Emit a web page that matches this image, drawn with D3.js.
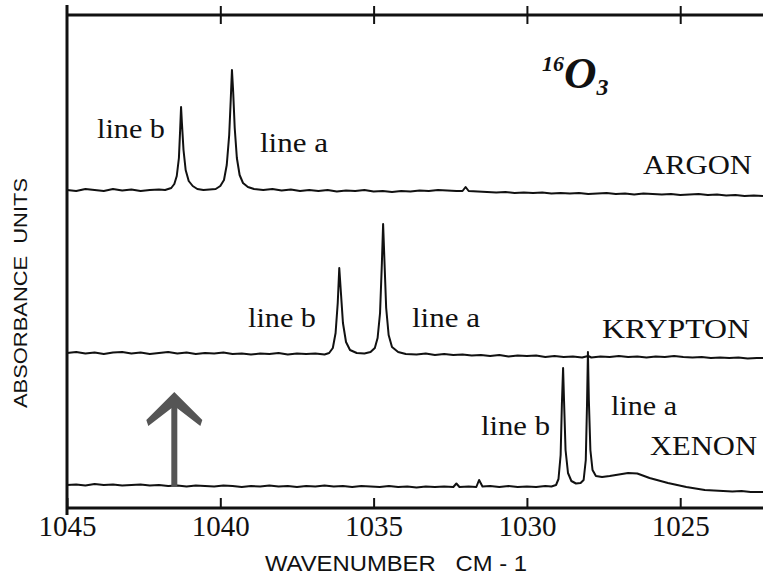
<!DOCTYPE html>
<html lang="en">
<head>
<meta charset="UTF-8">
<title>O3 spectra</title>
<script src="https://d3js.org/d3.v7.min.js"></script>
<style>
  body { margin: 0; background: #fff; }
</style>
</head>
<body>
<script>
// wavenumber (cm-1), relative absorbance (arbitrary units) for each matrix
var argon = [
  [1045.0, 0], [1044.7, -1], [1044.4, 1], [1044.1, 0], [1043.8, -1], [1043.5, 1], [1043.2, -0.5],
  [1042.9, 0.5], [1042.6, -1], [1042.3, 0], [1042.0, 0.5], [1041.8, 0], [1041.6, 2], [1041.5, 6],
  [1041.42, 14], [1041.35, 32], [1041.31, 60], [1041.28, 83], [1041.25, 66], [1041.2, 40],
  [1041.13, 20], [1041.03, 9], [1040.9, 4], [1040.75, 1], [1040.55, 0], [1040.35, 0.5],
  [1040.15, 1], [1040.0, 4], [1039.88, 10], [1039.79, 25], [1039.71, 55], [1039.66, 90],
  [1039.62, 120], [1039.58, 98], [1039.53, 62], [1039.46, 32], [1039.37, 15], [1039.26, 7],
  [1039.1, 3], [1038.9, 1], [1038.6, 0], [1038.3, 1], [1038.0, -0.5], [1037.7, 0.5], [1037.4, -1],
  [1037.1, 0], [1036.8, -1], [1036.5, 0], [1036.2, -1.5], [1035.9, -0.5], [1035.6, -1], [1035.3, 0],
  [1035.0, -1.5], [1034.7, -1], [1034.4, -2], [1034.1, -1], [1033.8, -1.5], [1033.5, -0.5],
  [1033.2, -1], [1032.9, 0], [1032.6, -0.5], [1032.3, -1], [1032.1, -1], [1032.0, 3], [1031.9, -1],
  [1031.6, -1.5], [1031.3, -2], [1031.0, -2.5], [1030.7, -2], [1030.4, -3], [1030.1, -2.5],
  [1029.8, -3], [1029.5, -2.5], [1029.2, -3.5], [1028.9, -3], [1028.6, -3.5], [1028.3, -3],
  [1028.0, -4], [1027.7, -3.5], [1027.4, -3], [1027.1, -4], [1026.8, -3.5], [1026.5, -4.5],
  [1026.2, -3.5], [1025.9, -4], [1025.6, -4.5], [1025.3, -4], [1025.0, -5], [1024.7, -4.5],
  [1024.4, -4], [1024.1, -5], [1023.8, -4.5], [1023.5, -5.5], [1023.2, -5], [1022.9, -6],
  [1022.6, -5.5], [1022.3, -6]
];

var krypton = [
  [1045.0, 0], [1044.7, 1], [1044.4, -0.5], [1044.1, 0.5], [1043.8, -1], [1043.5, 0.5], [1043.2, 1],
  [1042.9, -0.5], [1042.6, 0.5], [1042.3, -1], [1042.0, 0], [1041.7, 1], [1041.4, -0.5], [1041.1, 0.5],
  [1040.8, -1], [1040.5, 0], [1040.2, -0.5], [1039.9, 0.5], [1039.6, -1], [1039.3, -0.5], [1039.0, -1.5],
  [1038.7, -0.5], [1038.4, -1], [1038.1, 0], [1037.8, -1.5], [1037.5, -0.5], [1037.2, -1], [1036.9, -0.5],
  [1036.6, -1.5], [1036.45, 0], [1036.33, 5], [1036.24, 20], [1036.17, 50], [1036.12, 85],
  [1036.07, 62], [1036.0, 30], [1035.9, 11], [1035.77, 3], [1035.55, 0], [1035.3, -0.5], [1035.1, 1],
  [1034.96, 5], [1034.87, 15], [1034.79, 40], [1034.73, 90], [1034.69, 129], [1034.65, 95],
  [1034.59, 45], [1034.51, 18], [1034.4, 6], [1034.2, 1], [1033.95, -1], [1033.6, -1.5], [1033.3, -0.5],
  [1033.0, -2], [1032.7, -1], [1032.4, -2], [1032.1, -1.5], [1031.8, -2.5], [1031.5, -2], [1031.2, -3],
  [1030.9, -2], [1030.6, -3.5], [1030.3, -2.5], [1030.0, -3], [1029.7, -2.5], [1029.4, -4], [1029.1, -3],
  [1028.8, -4], [1028.5, -3.5], [1028.2, -4.5], [1028.0, -3], [1027.9, -4.5], [1027.6, -3.5],
  [1027.3, -4], [1027.0, -3], [1026.7, -4], [1026.4, -3.5], [1026.1, -4.5], [1025.8, -3.5],
  [1025.5, -4], [1025.2, -3], [1024.9, -4], [1024.6, -4.5], [1024.3, -4], [1024.0, -5], [1023.7, -4.5],
  [1023.4, -5], [1023.1, -4.5], [1022.8, -5.5], [1022.5, -5], [1022.3, -5]
];

var xenon = [
  [1045.0, 0], [1044.7, 0.5], [1044.4, -0.5], [1044.1, 1], [1043.8, 0], [1043.5, 0.5], [1043.2, -0.5],
  [1042.9, 0], [1042.6, 0.5], [1042.3, -0.5], [1042.0, 0], [1041.7, -1], [1041.4, -0.5], [1041.1, -1.5],
  [1040.8, -0.5], [1040.5, -1], [1040.2, -1.5], [1039.9, -0.5], [1039.6, -1], [1039.3, -2], [1039.0, -1],
  [1038.7, -1.5], [1038.4, -0.5], [1038.1, -1.5], [1037.8, -1], [1037.5, -2], [1037.2, -1],
  [1036.9, -1.5], [1036.6, -0.5], [1036.3, -1.5], [1036.0, -1], [1035.7, -2], [1035.4, -1],
  [1035.1, -1.5], [1034.8, -2], [1034.5, -1], [1034.2, -2], [1033.9, -1.5], [1033.6, -2.5],
  [1033.3, -1.5], [1033.0, -2], [1032.7, -1.5], [1032.4, -2], [1032.3, 1.5], [1032.2, -2],
  [1031.9, -1.5], [1031.65, -2], [1031.56, 5], [1031.45, -1.5], [1031.2, -1], [1030.9, -2],
  [1030.6, -1], [1030.3, -2], [1030.0, -1.5], [1029.7, -2], [1029.4, -1], [1029.2, -1.5],
  [1029.05, 0], [1028.97, 6], [1028.9, 30], [1028.86, 80], [1028.82, 117], [1028.79, 85],
  [1028.74, 35], [1028.66, 12], [1028.55, 4], [1028.4, 1.5], [1028.25, 2], [1028.15, 5],
  [1028.08, 25], [1028.04, 80], [1028.01, 133], [1027.98, 85], [1027.93, 35], [1027.86, 15],
  [1027.75, 9], [1027.55, 8], [1027.3, 9], [1027.0, 10.5], [1026.7, 12], [1026.4, 11.5],
  [1026.0, 7], [1025.7, 4.5], [1025.4, 2], [1025.1, 0], [1024.8, -2], [1024.5, -3.5], [1024.2, -5],
  [1023.9, -5.5], [1023.6, -6], [1023.3, -6.5], [1023.0, -6], [1022.7, -7], [1022.3, -7]
];

var xTicks = [1045, 1040, 1035, 1030, 1025];
var matrixNames = ["ARGON", "KRYPTON", "XENON"];

var width = 763, height = 577;
var mLeft = 67, mRight = 763, mTop = 15, mBottom = 508;

var svg = d3.select("body").append("svg")
    .attr("width", width)
    .attr("height", height);

var x = d3.scaleLinear().domain([1045, 1022.3]).range([mLeft, mRight]);
var y = d3.scaleLinear().domain([0, 493]).range([mBottom, mTop]);

// vertical offsets that stack the three spectra
var offsets = [318, 155, 23];
var series = [argon, krypton, xenon];

var line = d3.line()
    .x(function (d) { return x(d[0]); })
    .y(function (d) { return y(d[1]); });

series.forEach(function (s, i) {
    svg.append("path")
        .datum(s.map(function (d) { return [d[0], d[1] + offsets[i]]; }))
        .attr("d", line)
        .attr("fill", "none")
        .attr("stroke", "#111")
        .attr("stroke-width", 2)
        .attr("stroke-linejoin", "round");
});

// bottom axis
var xAxis = d3.axisBottom(x)
    .tickValues(xTicks)
    .tickSize(-10)
    .tickSizeOuter(0)
    .tickPadding(7)
    .tickFormat(d3.format("d"));

var gx = svg.append("g")
    .attr("transform", "translate(0," + mBottom + ")")
    .call(xAxis);
gx.select(".domain").remove();
gx.selectAll(".tick line").attr("stroke", "#111").attr("stroke-width", 2);
gx.selectAll(".tick text")
    .attr("fill", "#111")
    .style("font-family", "'Liberation Serif', 'Times New Roman', serif")
    .style("font-size", "29px");

// top axis with ticks crossing the line
var xAxisTop = d3.axisTop(x)
    .tickValues(xTicks.slice(1))
    .tickSize(9)
    .tickSizeOuter(0)
    .tickFormat("");
var gt = svg.append("g")
    .attr("transform", "translate(0," + mTop + ")")
    .call(xAxisTop);
gt.select(".domain").remove();
gt.selectAll(".tick line").attr("y2", 9).attr("y1", -9).attr("stroke", "#111").attr("stroke-width", 2);

// frame lines
svg.append("line").attr("x1", mLeft).attr("x2", mRight).attr("y1", mTop).attr("y2", mTop)
    .attr("stroke", "#111").attr("stroke-width", 3);
svg.append("line").attr("x1", mLeft).attr("x2", mRight).attr("y1", mBottom).attr("y2", mBottom)
    .attr("stroke", "#111").attr("stroke-width", 3);
svg.append("line").attr("x1", mLeft).attr("x2", mLeft).attr("y1", 5).attr("y2", 515)
    .attr("stroke", "#111").attr("stroke-width", 3);

// axis titles
svg.append("text")
    .attr("x", 396).attr("y", 571)
    .attr("text-anchor", "middle")
    .attr("textLength", 262)
    .attr("lengthAdjust", "spacingAndGlyphs")
    .style("white-space", "pre")
    .style("font-family", "'Liberation Sans', Arial, sans-serif")
    .style("font-size", "22px")
    .attr("fill", "#111")
    .text("WAVENUMBER   CM - 1");

svg.append("text")
    .attr("transform", "translate(27,293) rotate(-90)")
    .attr("text-anchor", "middle")
    .attr("textLength", 230)
    .attr("lengthAdjust", "spacingAndGlyphs")
    .style("white-space", "pre")
    .style("font-family", "'Liberation Sans', Arial, sans-serif")
    .style("font-size", "18px")
    .attr("fill", "#111")
    .text("ABSORBANCE  UNITS");

// annotations
var serif = "'Liberation Serif', 'Times New Roman', serif";
var labels = [
    { t: "line b", x: 97, y: 138, w: 68 },
    { t: "line a", x: 260, y: 152, w: 68 },
    { t: matrixNames[0], x: 643, y: 174, w: 109 },
    { t: "line b", x: 248, y: 327, w: 68 },
    { t: "line a", x: 412, y: 327, w: 68 },
    { t: matrixNames[1], x: 602, y: 338, w: 148 },
    { t: "line b", x: 481, y: 435, w: 69 },
    { t: "line a", x: 611, y: 415, w: 66 },
    { t: matrixNames[2], x: 650, y: 455, w: 107 }
];
svg.selectAll(".lab")
    .data(labels)
    .enter().append("text")
    .attr("class", "lab")
    .attr("x", function (d) { return d.x; })
    .attr("y", function (d) { return d.y; })
    .attr("textLength", function (d) { return d.w; })
    .attr("lengthAdjust", "spacingAndGlyphs")
    .style("font-family", serif)
    .style("font-size", "28px")
    .attr("fill", "#111")
    .text(function (d) { return d.t; });

// title 16O3
var title = svg.append("text")
    .attr("x", 542).attr("y", 88)
    .style("font-family", serif)
    .style("font-weight", "bold")
    .style("font-style", "italic")
    .attr("fill", "#111");
title.append("tspan").attr("dy", -17).style("font-size", "22px").text("16");
title.append("tspan").attr("dy", 17).style("font-size", "45px").text("O");
title.append("tspan").attr("dy", 7).style("font-size", "24px").text("3");

// arrow
var ax = x(1041.5);
svg.append("line")
    .attr("x1", ax).attr("x2", ax)
    .attr("y1", 487).attr("y2", 400)
    .attr("stroke", "#555").attr("stroke-width", 6);
svg.append("path")
    .attr("d", "M" + ax + ",392 L" + (ax + 28) + ",420 L" + (ax + 26) + ",426 L" + ax + ",406 L" + (ax - 26) + ",426 L" + (ax - 28) + ",420 Z")
    .attr("fill", "#555");
</script>
</body>
</html>
